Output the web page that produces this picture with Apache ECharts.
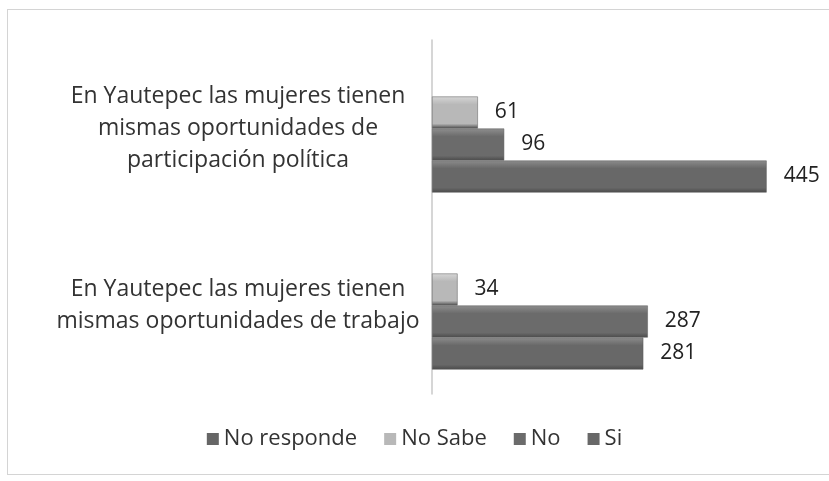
<!DOCTYPE html>
<html>
<head>
<meta charset="utf-8">
<script src="https://cdn.jsdelivr.net/npm/echarts@6/dist/echarts.min.js"></script>
<style>
html,body{margin:0;padding:0;background:#fff;}
#frame{position:absolute;left:7px;top:9px;width:830px;height:466px;border:1px solid #d4d4d4;box-sizing:border-box;}
#c{width:829px;height:481px;}
</style>
</head>
<body>
<div id="frame"></div>
<div id="c"></div>
<script>
const categories = [
  'En Yautepec las mujeres tienen\nmismas oportunidades de trabajo',
  'En Yautepec las mujeres tienen\nmismas oportunidades de\nparticipación política'
];
const seriesNames = ['No responde', 'No Sabe', 'No', 'Si'];
const noResponde = [null, null];
const noSabe = [34, 61];
const no = [287, 96];
const si = [281, 445];

const colors = ['#666666', '#b8b8b8', '#6b6b6b', '#686868'];
const lights = ['#8a8a8a', '#d6d6d6', '#8e8e8e', '#8c8c8c'];
function grad(c, light) {
  return new echarts.graphic.LinearGradient(0, 0, 0, 1, [
    {offset: 0, color: light},
    {offset: 0.25, color: c},
    {offset: 0.85, color: c},
    {offset: 1, color: '#4a4a4a'}
  ]);
}
const datas = [noResponde, noSabe, no, si];

const chart = echarts.init(document.getElementById('c'));
chart.setOption({
  animation: false,
  backgroundColor: 'transparent',
  textStyle: {fontFamily: 'Open Sans'},
  legend: {
    data: seriesNames.map((n, i) => ({name: n, itemStyle: {color: colors[i], borderWidth: 0}})),
    top: 423,
    left: 'center',
    itemWidth: 12,
    itemHeight: 12,
    itemGap: 27,
    icon: 'rect',
    textStyle: {fontSize: 22, color: '#333', fontFamily: 'Open Sans'}
  },
  grid: {left: 432, top: 40, height: 354, right: 21, containLabel: false},
  xAxis: {
    type: 'value', min: 0, max: 500,
    show: false
  },
  yAxis: {
    type: 'category',
    data: categories,
    axisLine: {show: true, lineStyle: {color: '#c8c8c8', width: 1.5}},
    axisTick: {show: false},
    axisLabel: {
      fontSize: 23, color: '#333', lineHeight: 32, align: 'center',
      margin: 194, fontFamily: 'Open Sans'
    }
  },
  series: seriesNames.map((n, i) => ({
    name: n,
    type: 'bar',
    data: datas[i],
    barWidth: 32,
    barGap: '0%',
    barCategoryGap: '27%',
    itemStyle: {color: grad(colors[i], lights[i]), borderColor: '#5a5a5a', borderWidth: 0.5},
    label: {
      show: true, position: 'right', distance: 17,
      fontSize: 21, color: '#222', fontFamily: 'Open Sans'
    }
  }))
});
</script>
</body>
</html>
